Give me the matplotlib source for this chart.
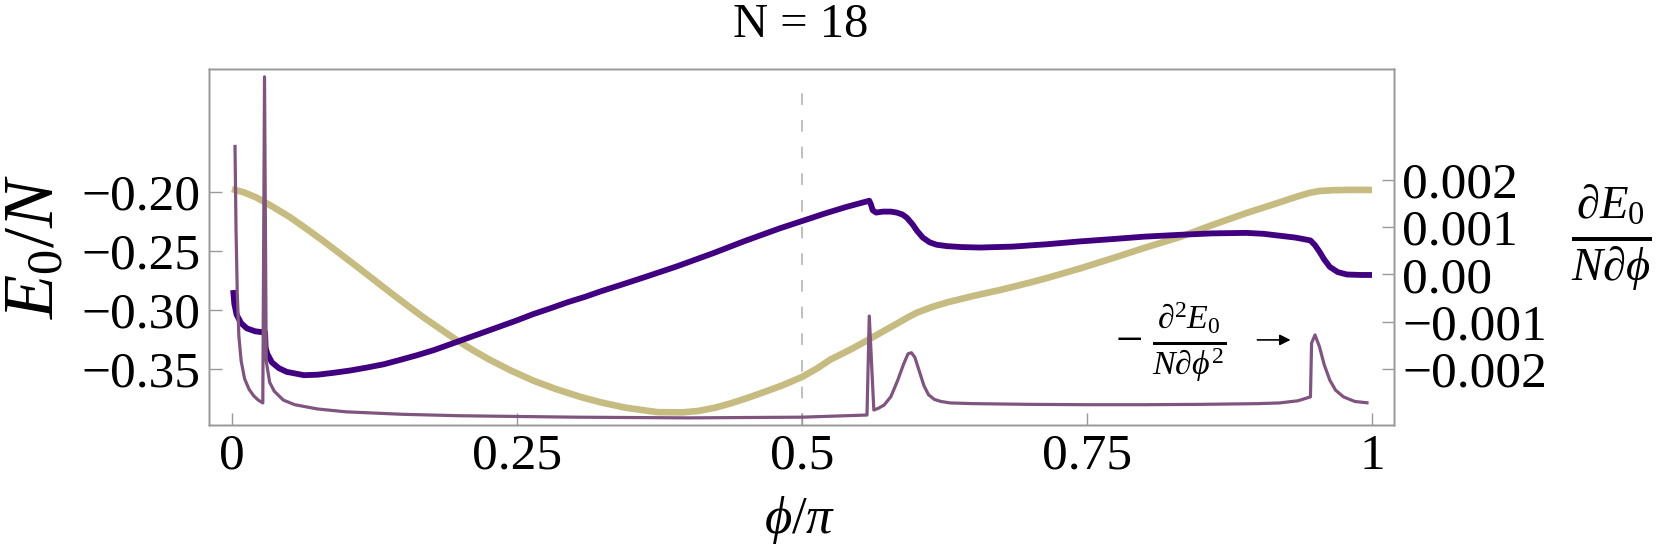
import numpy as np
import matplotlib.pyplot as plt

plt.rcParams['font.family'] = ['Liberation Serif', 'DejaVu Serif']
plt.rcParams['mathtext.fontset'] = 'custom'
plt.rcParams['mathtext.rm'] = 'Liberation Serif'
plt.rcParams['mathtext.it'] = 'Liberation Serif:italic'
plt.rcParams['mathtext.bf'] = 'Liberation Serif:bold'
plt.rcParams['mathtext.fallback'] = 'stix'

# E0/N  (left axis)
x_e = [0.0, 0.011, 0.022, 0.036, 0.051, 0.065, 0.08, 0.095, 0.11, 0.125, 0.139,
       0.154, 0.168, 0.183, 0.197, 0.212, 0.226, 0.245, 0.264, 0.284, 0.305, 0.323,
       0.345, 0.373, 0.395, 0.409, 0.424, 0.438, 0.452, 0.467, 0.483, 0.5, 0.513,
       0.525, 0.542, 0.558, 0.571, 0.584, 0.593, 0.601, 0.614, 0.628, 0.65, 0.675,
       0.7, 0.715, 0.744, 0.773, 0.8, 0.832, 0.86, 0.89, 0.912, 0.934, 0.945, 0.954,
       0.966, 0.978, 1.0]
e0 = [-0.1975, -0.2005, -0.205, -0.2127, -0.2215, -0.231, -0.2415, -0.2525, -0.2636,
      -0.2748, -0.2853, -0.2963, -0.3063, -0.3163, -0.3255, -0.3345, -0.3422, -0.3515,
      -0.3598, -0.367, -0.3735, -0.3782, -0.3828, -0.3866, -0.3868, -0.3856, -0.3828,
      -0.379, -0.3746, -0.3695, -0.3638, -0.3568, -0.3497, -0.342, -0.3338, -0.3254,
      -0.3182, -0.3112, -0.3062, -0.3022, -0.2975, -0.2934, -0.2882, -0.2828, -0.2768,
      -0.2729, -0.2648, -0.256, -0.2475, -0.238, -0.228, -0.2178, -0.211, -0.204,
      -0.2008, -0.1992, -0.1985, -0.1983, -0.1983]

# dE0/(N dphi)  (right axis)
x_d = [0.001, 0.002, 0.004, 0.008, 0.013, 0.02, 0.029, 0.0295, 0.031, 0.035, 0.041,
       0.048, 0.063, 0.075, 0.089, 0.104, 0.118, 0.133, 0.147, 0.162, 0.177, 0.191,
       0.206, 0.22, 0.235, 0.25, 0.264, 0.28, 0.294, 0.31, 0.323, 0.345, 0.364, 0.39,
       0.422, 0.45, 0.481, 0.5, 0.52, 0.539, 0.559, 0.5605, 0.562, 0.565, 0.571,
       0.578, 0.583, 0.588, 0.592, 0.597, 0.601, 0.606, 0.612, 0.618, 0.627, 0.64,
       0.656, 0.685, 0.715, 0.744, 0.773, 0.8, 0.832, 0.86, 0.89, 0.905, 0.919, 0.933,
       0.946, 0.95, 0.954, 0.958, 0.963, 0.97, 0.978, 0.99, 1.0]
d1 = [-0.00033, -0.00062, -0.00085, -0.00103, -0.00114, -0.0012, -0.00123, -0.00155,
      -0.00168, -0.00186, -0.00198, -0.00206, -0.00213, -0.00212, -0.00208, -0.00203,
      -0.00197, -0.0019, -0.00181, -0.00171, -0.0016, -0.00148, -0.00135, -0.00123,
      -0.0011, -0.00097, -0.00084, -0.00071, -0.00059, -0.00047, -0.00036, -0.00019,
      -0.00004, 0.00017, 0.00045, 0.00071, 0.00098, 0.00113, 0.00129, 0.00143,
      0.00156, 0.00148, 0.00136, 0.00131, 0.00133, 0.00133, 0.00131, 0.00127, 0.0012,
      0.00106, 0.00092, 0.00078, 0.00068, 0.00063, 0.0006, 0.00058, 0.00057, 0.00059,
      0.00064, 0.0007, 0.00075, 0.0008, 0.00084, 0.00087, 0.00088, 0.00086, 0.00082,
      0.00078, 0.00072, 0.00062, 0.00048, 0.00032, 0.00016, 0.00005, 0.0, -0.00001,
      -0.00001]

# -d2E0/(N dphi^2)  (arbitrary units)
x_s = [0.0026, 0.0035, 0.0046, 0.006, 0.008, 0.011, 0.015, 0.019, 0.023, 0.027,
       0.0285, 0.030, 0.031, 0.033, 0.037, 0.045, 0.055, 0.075, 0.1, 0.15, 0.2, 0.3,
       0.4, 0.5, 0.557, 0.559, 0.563, 0.567, 0.572, 0.578, 0.584, 0.589, 0.593, 0.596,
       0.599, 0.603, 0.607, 0.611, 0.616, 0.622, 0.63, 0.65, 0.7, 0.75, 0.8, 0.85,
       0.9, 0.919, 0.935, 0.946, 0.947, 0.95, 0.954, 0.958, 0.963, 0.968, 0.975,
       0.985, 0.997]
d2 = [0.787, 0.55, 0.37, 0.25, 0.18, 0.13, 0.1, 0.082, 0.07, 0.062, 0.978, 0.18,
      0.16, 0.12, 0.095, 0.07, 0.057, 0.045, 0.037, 0.03, 0.026, 0.022, 0.02, 0.022,
      0.028, 0.306, 0.042, 0.047, 0.056, 0.08, 0.126, 0.17, 0.2, 0.203, 0.19, 0.15,
      0.11, 0.085, 0.072, 0.066, 0.062, 0.06, 0.058, 0.057, 0.057, 0.058, 0.06,
      0.062, 0.068, 0.079, 0.23, 0.253, 0.219, 0.17, 0.126, 0.098, 0.079, 0.066,
      0.062]

xticks = [0, 0.25, 0.5, 0.75, 1]
xticklabels = ['0', '0.25', '0.5', '0.75', '1']
lticks = [-0.35, -0.30, -0.25, -0.20]
rticks = [-0.002, -0.001, 0.0, 0.001, 0.002]
rticklabels = ['\u22120.002', '\u22120.001', '0.00', '0.001', '0.002']

W, H = 1667, 552
fig = plt.figure(figsize=(W / 100, H / 100), dpi=100)
ax = fig.add_axes([209 / W, 127 / H, 1185 / W, 356 / H])
ax2 = ax.twinx()
ax3 = ax.twinx()

frame = '#999999'
for a in (ax, ax2, ax3):
    for s in a.spines.values():
        s.set_color(frame)
        s.set_linewidth(1.0)

ax.axvline(0.5, ymax=0.963, color='#b4b4b4', lw=1.2, ls=(0, (7, 9)), zorder=0)
ax.plot(x_e, e0, color='#c6bc82', lw=4.8, solid_capstyle='butt')
ax3.plot(x_s, d2, color='#7f5580', lw=2.3, solid_capstyle='butt')
ax2.plot(x_d, d1, color='#40007f', lw=4.2, solid_capstyle='butt')

ax.set_xlim(-0.0202, 1.0193)
ax.set_ylim(-0.3975, -0.0958)
ax2.set_ylim(-0.003184, 0.004347)
ax3.set_ylim(0, 1)
ax3.set_yticks([])

fs = 37
ax.set_xticks(xticks)
ax.set_xticklabels(xticklabels)
ax.set_yticks(lticks)
ax.set_yticklabels(['\u2212%.2f' % abs(v) for v in lticks])
ax2.set_yticks(rticks)
ax2.set_yticklabels(rticklabels)
ax.tick_params(axis='both', direction='in', length=9, width=1, color=frame,
               labelsize=fs, pad=6, top=False, right=False)
ax2.tick_params(axis='y', direction='in', length=9, width=1, color=frame,
                labelsize=fs, pad=6)

# labels
fig.text(801 / W, 1 - 25 / H, 'N = 18', ha='center', va='center', fontsize=35)
fig.text(36 / W, 1 - 246 / H, r'$E_{\mathit{0}}/N$', ha='center', va='center',
         rotation=90, fontsize=52)
fig.text(800 / W, 1 - 520 / H, r'$\phi/\pi$', ha='center', va='center', fontsize=38)
fig.text(1611 / W, 1 - 238 / H, r'$\frac{\partial E_{\mathit{0}}}{N\partial\phi}$',
         ha='center', va='center', fontsize=48)

ax3.text(0.823, 0.233, r'$-\;\frac{\partial^2 E_{\mathit{0}}}{N\partial\phi^2}$',
         ha='center', va='center', fontsize=35)
ax3.annotate('', xy=(0.931, 0.239), xytext=(0.897, 0.239),
             arrowprops=dict(arrowstyle='-|>', color='black', lw=1.2,
                             mutation_scale=16))

fig.savefig('out.png', dpi=100)
